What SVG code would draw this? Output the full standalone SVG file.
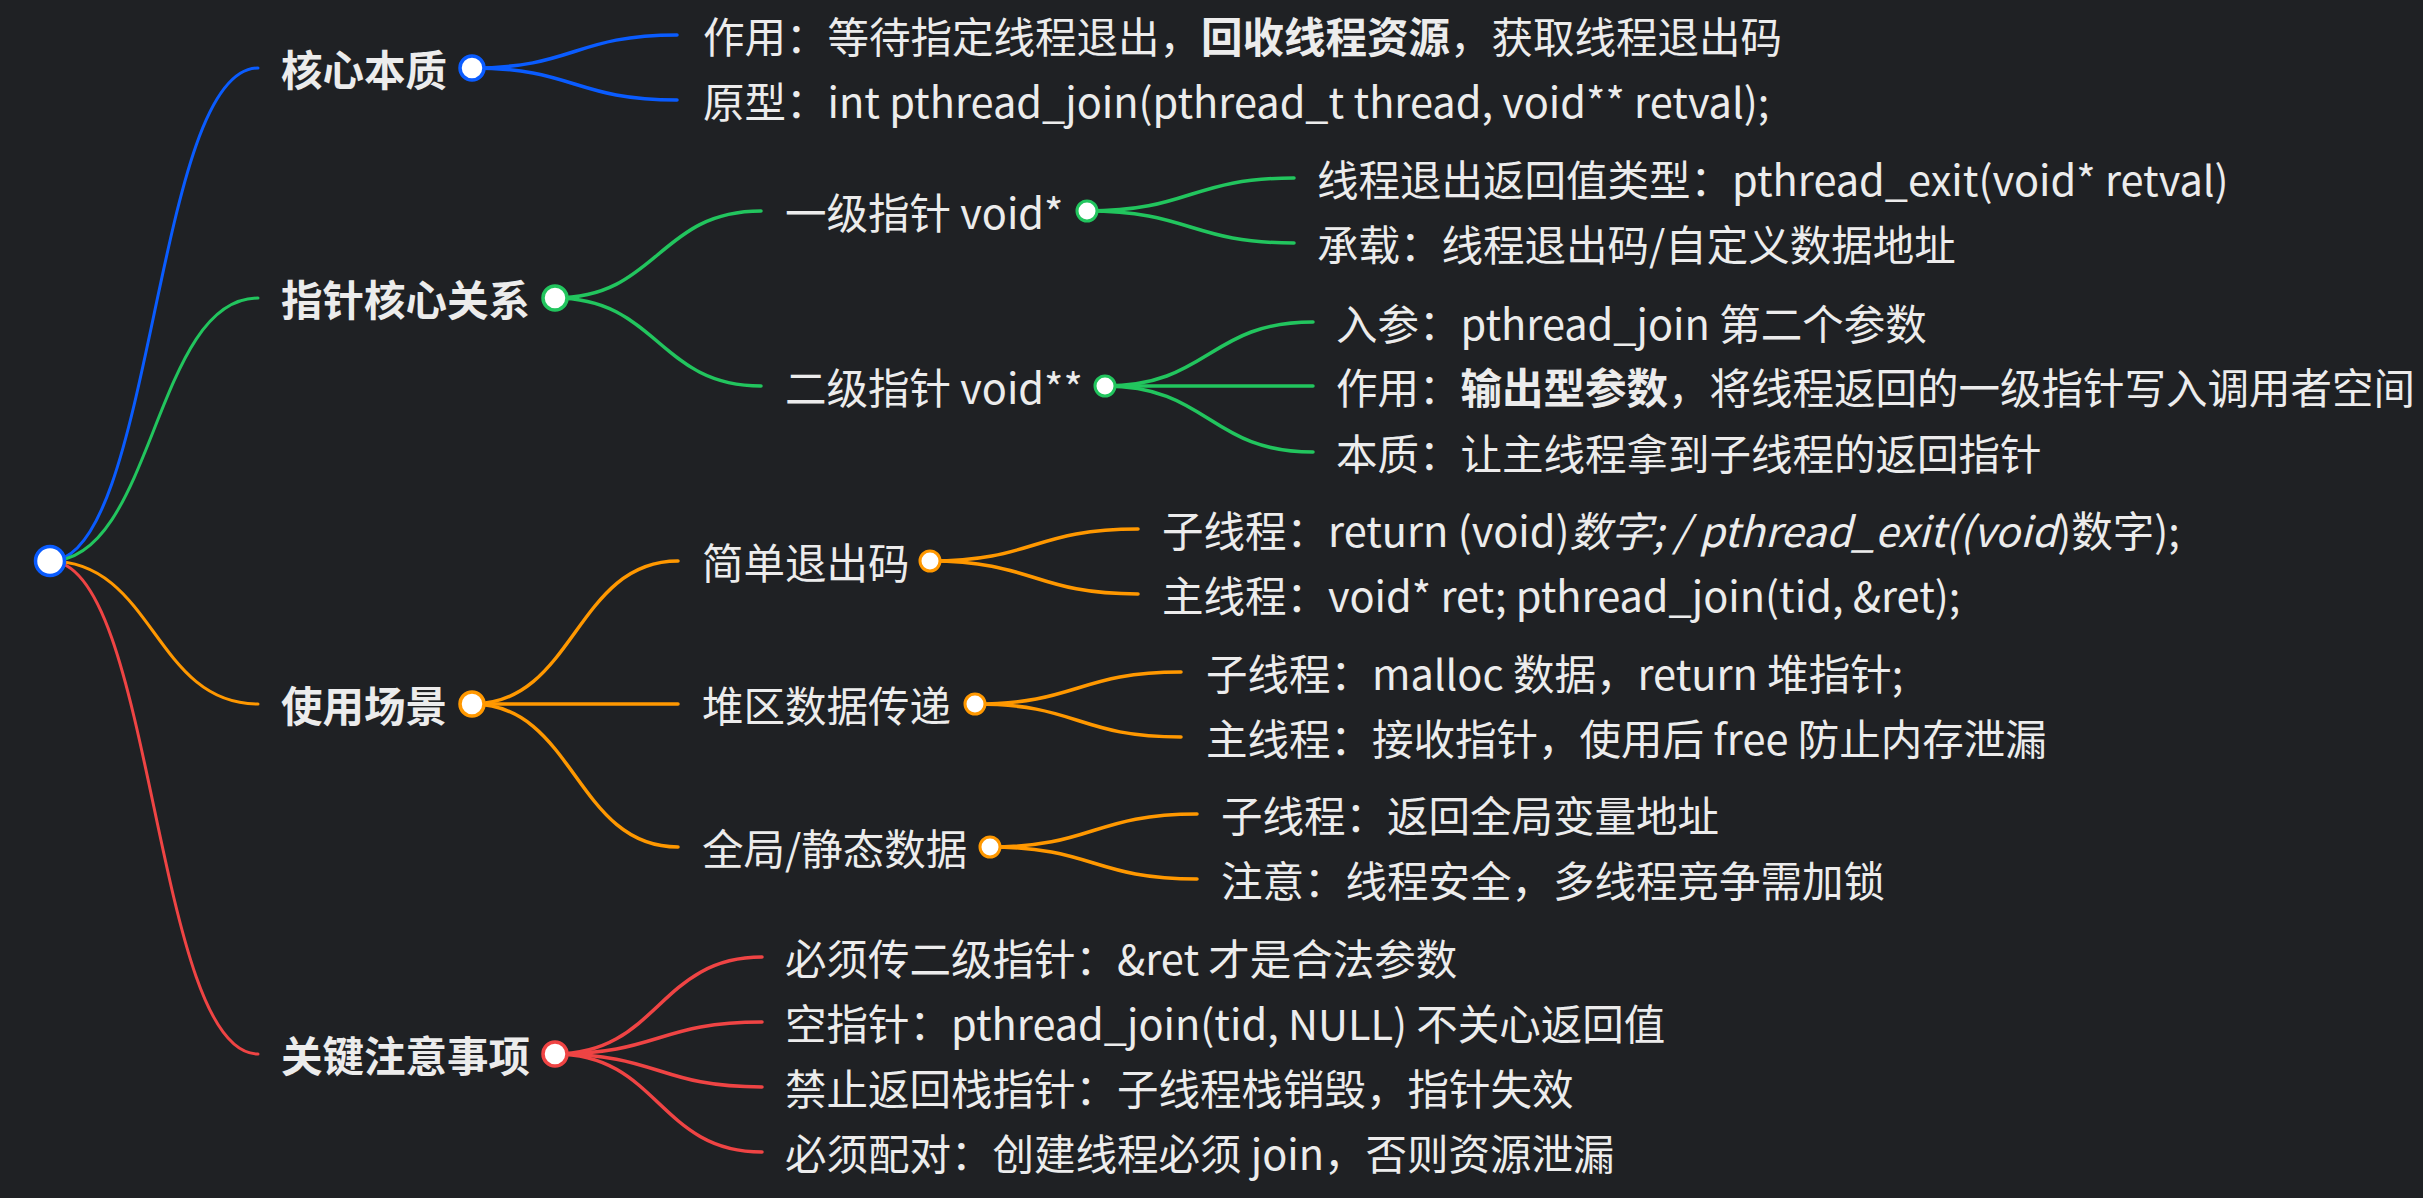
<svg xmlns="http://www.w3.org/2000/svg" width="2423" height="1198" viewBox="0 0 2423 1198">
<style>
.t{font-family:"Noto Sans CJK SC","Noto Sans",sans-serif;font-size:41.5px;fill:#ececec}
.b{font-weight:700}
.i{font-style:italic}
.ln{fill:none;stroke-linecap:round}
.r0{stroke-width:3}
.r1{stroke-width:3.5}
.blue{stroke:#0a5cff}
.green{stroke:#22c55e}
.orange{stroke:#ff9800}
.red{stroke:#ef4444}
.dot{fill:#ffffff}
</style>
<rect width="2423" height="1198" fill="#1f2124"/>
<g id="connectors">
<path class="ln r0 blue" d="M50,561 C154,561 154,68 258,68"/>
<path class="ln r0 green" d="M50,561 C154,561 154,298 258,298"/>
<path class="ln r0 orange" d="M50,561 C154,561 154,704 258,704"/>
<path class="ln r0 red" d="M50,561 C154,561 154,1054 258,1054"/>
<path class="ln r1 blue" d="M472,68 C574.5,68 574.5,35 677,35"/>
<path class="ln r1 blue" d="M472,68 C574.5,68 574.5,100 677,100"/>
<path class="ln r1 green" d="M555,298 C658,298 658,211 761,211"/>
<path class="ln r1 green" d="M555,298 C658,298 658,386 761,386"/>
<path class="ln r1 green" d="M1087,211 C1190.5,211 1190.5,178 1294,178"/>
<path class="ln r1 green" d="M1087,211 C1190.5,211 1190.5,243 1294,243"/>
<path class="ln r1 green" d="M1105,386 C1209,386 1209,322 1313,322"/>
<path class="ln r1 green" d="M1105,386 C1209,386 1209,386 1313,386"/>
<path class="ln r1 green" d="M1105,386 C1209,386 1209,452 1313,452"/>
<path class="ln r1 orange" d="M472,704 C575,704 575,561 678,561"/>
<path class="ln r1 orange" d="M472,704 C575,704 575,704 678,704"/>
<path class="ln r1 orange" d="M472,704 C575,704 575,847 678,847"/>
<path class="ln r1 orange" d="M930,561 C1034,561 1034,529 1138,529"/>
<path class="ln r1 orange" d="M930,561 C1034,561 1034,594 1138,594"/>
<path class="ln r1 orange" d="M975,704 C1078,704 1078,672 1181,672"/>
<path class="ln r1 orange" d="M975,704 C1078,704 1078,737 1181,737"/>
<path class="ln r1 orange" d="M990,847 C1093.5,847 1093.5,814 1197,814"/>
<path class="ln r1 orange" d="M990,847 C1093.5,847 1093.5,879 1197,879"/>
<path class="ln r1 red" d="M555,1054 C658.5,1054 658.5,957 762,957"/>
<path class="ln r1 red" d="M555,1054 C658.5,1054 658.5,1022 762,1022"/>
<path class="ln r1 red" d="M555,1054 C658.5,1054 658.5,1087 762,1087"/>
<path class="ln r1 red" d="M555,1054 C658.5,1054 658.5,1152 762,1152"/>
</g>
<g id="root"><circle class="dot blue" cx="50" cy="561" r="14.5" stroke-width="3.5"/></g>
<g id="n-core"><text class="t b" x="281" y="86">核心本质</text><circle class="dot blue" cx="472" cy="68" r="12" stroke-width="3.5"/></g>
<g id="n-core-1"><text class="t" x="703" y="53">作用：等待指定线程退出，<tspan class="b">回收线程资源</tspan>，获取线程退出码</text></g>
<g id="n-core-2"><text class="t" x="703" y="118">原型：int pthread_join(pthread_t thread, void** retval);</text></g>
<g id="n-ptr"><text class="t b" x="281" y="316">指针核心关系</text><circle class="dot green" cx="555" cy="298" r="12" stroke-width="3.5"/></g>
<g id="n-ptr1"><text class="t" x="785" y="229">一级指针 void*</text><circle class="dot green" cx="1087" cy="211" r="10" stroke-width="3"/></g>
<g id="n-ptr1-1"><text class="t" x="1317" y="196">线程退出返回值类型：pthread_exit(void* retval)</text></g>
<g id="n-ptr1-2"><text class="t" x="1317" y="261">承载：线程退出码/自定义数据地址</text></g>
<g id="n-ptr2"><text class="t" x="785" y="404">二级指针 void**</text><circle class="dot green" cx="1105" cy="386" r="10" stroke-width="3"/></g>
<g id="n-ptr2-1"><text class="t" x="1336" y="340">入参：pthread_join 第二个参数</text></g>
<g id="n-ptr2-2"><text class="t" x="1336" y="404">作用：<tspan class="b">输出型参数</tspan>，将线程返回的一级指针写入调用者空间</text></g>
<g id="n-ptr2-3"><text class="t" x="1336" y="470">本质：让主线程拿到子线程的返回指针</text></g>
<g id="n-use"><text class="t b" x="281" y="722">使用场景</text><circle class="dot orange" cx="472" cy="704" r="12" stroke-width="3.5"/></g>
<g id="n-use1"><text class="t" x="702" y="579">简单退出码</text><circle class="dot orange" cx="930" cy="561" r="10" stroke-width="3"/></g>
<g id="n-use1-1"><text class="t" x="1162" y="547">子线程：return (void)<tspan class="i">数字; / pthread_exit((void</tspan>)数字);</text></g>
<g id="n-use1-2"><text class="t" x="1162" y="612">主线程：void* ret; pthread_join(tid, &amp;ret);</text></g>
<g id="n-use2"><text class="t" x="702" y="722">堆区数据传递</text><circle class="dot orange" cx="975" cy="704" r="10" stroke-width="3"/></g>
<g id="n-use2-1"><text class="t" x="1206" y="690">子线程：malloc 数据，return 堆指针;</text></g>
<g id="n-use2-2"><text class="t" x="1206" y="755">主线程：接收指针，使用后 free 防止内存泄漏</text></g>
<g id="n-use3"><text class="t" x="702" y="865">全局/静态数据</text><circle class="dot orange" cx="990" cy="847" r="10" stroke-width="3"/></g>
<g id="n-use3-1"><text class="t" x="1221" y="832">子线程：返回全局变量地址</text></g>
<g id="n-use3-2"><text class="t" x="1221" y="897">注意：线程安全，多线程竞争需加锁</text></g>
<g id="n-note"><text class="t b" x="281" y="1072">关键注意事项</text><circle class="dot red" cx="555" cy="1054" r="12" stroke-width="3.5"/></g>
<g id="n-note-1"><text class="t" x="785" y="975">必须传二级指针：&amp;ret 才是合法参数</text></g>
<g id="n-note-2"><text class="t" x="785" y="1040">空指针：pthread_join(tid, NULL) 不关心返回值</text></g>
<g id="n-note-3"><text class="t" x="785" y="1105">禁止返回栈指针：子线程栈销毁，指针失效</text></g>
<g id="n-note-4"><text class="t" x="785" y="1170">必须配对：创建线程必须 join，否则资源泄漏</text></g>
</svg>
